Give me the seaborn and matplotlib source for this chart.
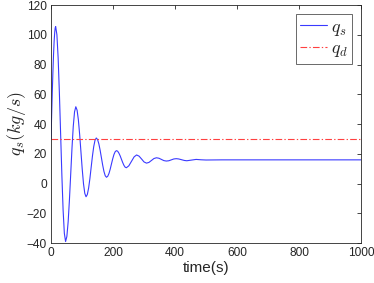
import matplotlib
matplotlib.use("Agg")
import matplotlib.pyplot as plt
import seaborn as sns
import pandas as pd

# time (s) and flow q_s (kg/s)
time_s = [0, 2, 4, 6, 8, 10, 12, 13.5, 15,
          19, 23, 27, 31, 35, 39, 43, 47,
          51.1, 55.25, 59.4, 63.5, 67.6, 71.75, 75.9, 80,
          84.1, 88.25, 92.4, 96.5, 100.6, 104.75, 108.9, 113,
          117.1, 121.25, 125.4, 129.5, 133.6, 137.75, 141.9, 146,
          150.1, 154.25, 158.4, 162.5, 166.6, 170.75, 174.9, 179,
          183, 187, 191, 195, 199, 203, 207, 211,
          215, 219, 223, 227, 231, 235, 239, 243,
          251, 259.5, 268, 276, 284, 292, 300, 308,
          316, 324, 332, 340, 348, 356, 364, 372, 380, 388, 396, 404,
          412, 421, 430, 438, 453, 468, 484, 500, 550, 600, 700, 800, 900, 1000]
q_s = [30, 45.7, 60.7, 74.4, 86.1, 95.4, 101.8, 104.6, 105.5,
       100.0, 84.4, 60.9, 33.3, 5.7, -17.9, -33.5, -39,
       -35.6, -25.8, -11.0, 6.3, 23.6, 38.4, 48.2, 51.6,
       49.3, 42.8, 32.9, 21.4, 9.8, -0.1, -6.6, -8.9,
       -7.4, -3.1, 3.3, 10.9, 18.4, 24.8, 29.1, 30.6,
       29.6, 26.7, 22.4, 17.4, 12.4, 8.1, 5.2, 4.2,
       4.9, 6.8, 9.7, 13.2, 16.6, 19.5, 21.4, 22.1,
       21.7, 20.4, 18.6, 16.4, 14.2, 12.3, 11.0, 10.6,
       11.9, 14.9, 17.9, 19.2, 18.4, 16.5, 14.5, 13.7,
       14.2, 15.5, 16.8, 17.3, 17.0, 16.2, 15.4, 15.1, 15.3, 15.9, 16.5, 16.7,
       16.5, 16.0, 15.5, 15.3, 15.75, 16.2, 15.95, 15.8,
       15.9, 15.9, 15.9, 15.9, 15.9, 15.9]
q_d_value = 30
x_ticks = [0, 200, 400, 600, 800, 1000]
y_ticks = [-40, -20, 0, 20, 40, 60, 80, 100, 120]

sns.set_style("white")
plt.rcParams["font.family"] = ["Liberation Sans", "DejaVu Sans"]
plt.rcParams["mathtext.fontset"] = "cm"

fig = plt.figure(figsize=(3.74, 2.83), dpi=100)
ax = fig.add_axes([0.1364, 0.1413, 0.829, 0.841])

df = pd.DataFrame({"t": time_s, "q": q_s})
sns.lineplot(data=df, x="t", y="q", ax=ax, color="#3a3aff", linewidth=0.8,
             label=r"$q_s$", sort=False)
dfd = pd.DataFrame({"t": [0, 1000], "q": [q_d_value, q_d_value]})
sns.lineplot(data=dfd, x="t", y="q", ax=ax, color="#ff4040", linewidth=0.8,
             linestyle=(0, (6, 2, 1.2, 2)), label=r"$q_d$")

ax.set_xlim(0, 1000)
ax.set_ylim(-40, 120)
ax.set_xticks(x_ticks)
ax.set_yticks(y_ticks)
ax.tick_params(direction="in", length=3, width=0.6, top=True, right=True,
               labelsize=8.6, colors="#262626", pad=3)
for s in ax.spines.values():
    s.set_color("#262626")
    s.set_linewidth(0.6)
ax.set_xlabel("time(s)", fontsize=11, color="#262626", labelpad=1)
ax.set_ylabel(r"$q_s(kg/s)$", fontsize=13, color="#262626", labelpad=-1)

leg = ax.legend(loc="upper right", fontsize=13, frameon=True, fancybox=False,
                handlelength=1.5, handletextpad=0.2, borderpad=0.25,
                labelspacing=0.15, borderaxespad=0.5)
leg.get_frame().set_edgecolor("#262626")
leg.get_frame().set_linewidth(0.6)

fig.savefig("out.png", dpi=100)
